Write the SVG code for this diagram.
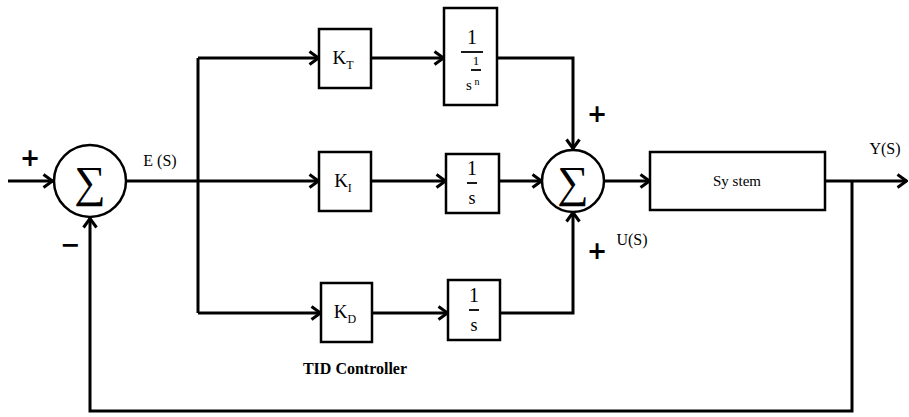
<svg xmlns="http://www.w3.org/2000/svg" width="909" height="417" viewBox="0 0 909 417">
<style>
.box{fill:#fff;stroke:#000;stroke-width:2.5}
.circ{fill:#fff;stroke:#000;stroke-width:2.5}
.ln{fill:none;stroke:#000;stroke-width:3}
.t{font-family:"Liberation Serif","DejaVu Serif",serif;fill:#000}
.pm{font-family:"DejaVu Sans",sans-serif;font-weight:bold;fill:#000;text-anchor:middle}
.sig{font-family:"Liberation Serif","DejaVu Serif",serif;font-size:44px;text-anchor:middle;fill:#000}
.bar{stroke:#000;stroke-width:1.8}
</style>
<defs>
<marker id="arr" viewBox="0 0 12 16" refX="11" refY="8" markerWidth="12" markerHeight="16" markerUnits="userSpaceOnUse" orient="auto">
<path d="M1.5,1.5 L10.5,8 L1.5,14.5" fill="none" stroke="#000" stroke-width="3"/>
</marker>
</defs>
<rect width="909" height="417" fill="#fff"/>
<g id="connectors">
<path class="ln" d="M8,181 H53" marker-end="url(#arr)"/>
<path class="ln" d="M126,181 H319" marker-end="url(#arr)"/>
<path class="ln" d="M198,58 V313"/>
<path class="ln" d="M198,58 H319" marker-end="url(#arr)"/>
<path class="ln" d="M198,313 H321" marker-end="url(#arr)"/>
<path class="ln" d="M371,58 H444" marker-end="url(#arr)"/>
<path class="ln" d="M371,181 H446" marker-end="url(#arr)"/>
<path class="ln" d="M372,313 H448" marker-end="url(#arr)"/>
<path class="ln" d="M497,58 H573 V149" marker-end="url(#arr)"/>
<path class="ln" d="M499,181 H542" marker-end="url(#arr)"/>
<path class="ln" d="M500,313 H573 V212" marker-end="url(#arr)"/>
<path class="ln" d="M604,181 H650" marker-end="url(#arr)"/>
<path class="ln" d="M825,181 H907" marker-end="url(#arr)"/>
<path class="ln" d="M852,181 V411 H90 V218" marker-end="url(#arr)"/>
</g>
<g id="sum1">
<circle class="circ" cx="90" cy="181" r="36"/>
<text class="sig" x="90" y="197">∑</text>
<text class="pm" x="30" y="166" font-size="24">+</text>
<text class="pm" x="70" y="253" font-size="24">−</text>
</g>
<g id="es-label"><text class="t" x="160" y="166" font-size="16" text-anchor="middle">E (S)</text></g>
<g id="kt">
<rect class="box" x="319" y="29" width="52" height="59"/>
<text class="t" x="343" y="64" font-size="19" text-anchor="middle">K<tspan font-size="12" dy="5">T</tspan></text>
</g>
<g id="ki">
<rect class="box" x="319" y="152" width="52" height="59"/>
<text class="t" x="343" y="187" font-size="19" text-anchor="middle">K<tspan font-size="12" dy="5">I</tspan></text>
</g>
<g id="kd">
<rect class="box" x="321" y="283" width="51" height="59"/>
<text class="t" x="345" y="318" font-size="19" text-anchor="middle">K<tspan font-size="12" dy="5">D</tspan></text>
</g>
<g id="frac">
<rect class="box" x="444" y="8" width="53" height="97"/>
<text class="t" x="472" y="44" font-size="20" text-anchor="middle">1</text>
<line class="bar" x1="461" y1="52" x2="483" y2="52"/>
<text class="t" x="476" y="65" font-size="13" text-anchor="middle">1</text>
<line class="bar" x1="471" y1="70" x2="481" y2="70"/>
<text class="t" x="469" y="90" font-size="15" text-anchor="middle">s</text>
<text class="t" x="477" y="85" font-size="10" text-anchor="middle">n</text>
</g>
<g id="int1">
<rect class="box" x="446" y="154" width="53" height="59"/>
<text class="t" x="472" y="175" font-size="20" text-anchor="middle">1</text>
<line class="bar" x1="467" y1="183" x2="477" y2="183"/>
<text class="t" x="472" y="204" font-size="18" text-anchor="middle">s</text>
</g>
<g id="int2">
<rect class="box" x="448" y="280" width="52" height="60"/>
<text class="t" x="474" y="302" font-size="20" text-anchor="middle">1</text>
<line class="bar" x1="469" y1="310" x2="479" y2="310"/>
<text class="t" x="474" y="331" font-size="18" text-anchor="middle">s</text>
</g>
<g id="sum2">
<circle class="circ" cx="573" cy="181" r="31"/>
<text class="sig" x="573" y="197">∑</text>
<text class="pm" x="597" y="122" font-size="24">+</text>
<text class="pm" x="597" y="259" font-size="24">+</text>
</g>
<g id="us-label"><text class="t" x="632" y="245" font-size="16" text-anchor="middle">U(S)</text></g>
<g id="system">
<rect class="box" x="650" y="152" width="175" height="58"/>
<text class="t" x="737" y="186" font-size="15" text-anchor="middle">Sy stem</text>
</g>
<g id="ys-label"><text class="t" x="885" y="154" font-size="16" text-anchor="middle">Y(S)</text></g>
<g id="tid-label"><text class="t" x="355" y="374" font-size="16" font-weight="bold" text-anchor="middle">TID Controller</text></g>
</svg>
